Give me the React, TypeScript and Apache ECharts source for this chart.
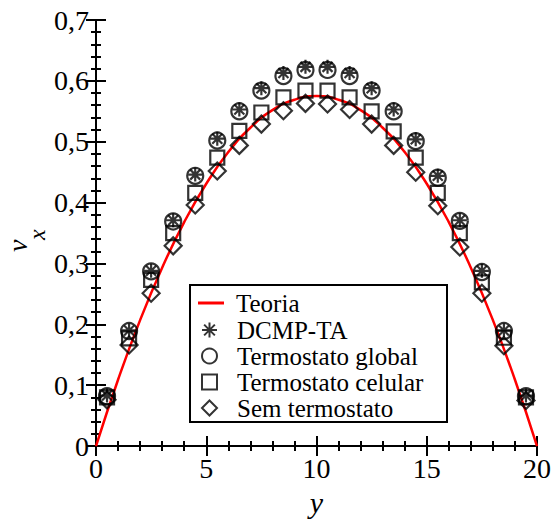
import React, { useEffect, useRef } from "react";
import * as echarts from "echarts";

const positions = [0.5, 1.5, 2.5, 3.5, 4.5, 5.5, 6.5, 7.5, 8.5, 9.5, 10.5, 11.5, 12.5, 13.5, 14.5, 15.5, 16.5, 17.5, 18.5, 19.5];
const dcmpTA = [0.083, 0.19, 0.288, 0.371, 0.446, 0.505, 0.553, 0.588, 0.613, 0.623, 0.623, 0.613, 0.588, 0.553, 0.504, 0.444, 0.371, 0.288, 0.19, 0.083];
const termGlobal = [0.082, 0.189, 0.287, 0.369, 0.444, 0.502, 0.55, 0.584, 0.608, 0.618, 0.618, 0.608, 0.584, 0.55, 0.501, 0.441, 0.37, 0.286, 0.189, 0.082];
const termCelular = [0.08, 0.177, 0.273, 0.35, 0.416, 0.474, 0.518, 0.548, 0.573, 0.584, 0.584, 0.573, 0.55, 0.517, 0.474, 0.416, 0.35, 0.269, 0.178, 0.08];
const semTerm = [0.076, 0.166, 0.251, 0.329, 0.396, 0.452, 0.494, 0.529, 0.551, 0.563, 0.562, 0.553, 0.529, 0.494, 0.45, 0.395, 0.327, 0.251, 0.165, 0.075];
const theoryY = [0, 1, 2, 3, 4, 5, 6, 7, 8, 9, 10, 11, 12, 13, 14, 15, 16, 17, 18, 19, 20];
const theoryV = [0, 0.109, 0.207, 0.293, 0.368, 0.431, 0.483, 0.523, 0.552, 0.569, 0.575, 0.569, 0.552, 0.523, 0.483, 0.431, 0.368, 0.293, 0.207, 0.109, 0];

const names = ["Teoria", "DCMP-TA", "Termostato global", "Termostato celular", "Sem termostato"];

const FONT = "Times New Roman, Liberation Serif, DejaVu Serif, serif";
const STAR = "path://M0,-7L0,7M-7,0L7,0M-5,-5L5,5M-5,5L5,-5";

const pairs = (xs: number[], ys: number[]) => xs.map((x, i) => [x, ys[i]]);

export default function App() {
  const ref = useRef<HTMLDivElement>(null);
  useEffect(() => {
    if (!ref.current) return;
    const chart = echarts.init(ref.current, undefined, { renderer: "svg" });
    const axisLine = { show: true, lineStyle: { color: "#000", width: 2 } };
    const tick = { show: true, inside: true, length: 10, lineStyle: { color: "#000", width: 2 } };
    const minor = { show: true, splitNumber: 5, length: 5, lineStyle: { color: "#000", width: 2 } };
    const hollow = (sym: string, size: number, name: string, data: number[]) => ({
      type: "scatter",
      name,
      symbol: sym,
      symbolSize: size,
      data: pairs(positions, data),
      itemStyle: { color: "transparent", borderColor: "#000", borderWidth: 2.2 },
      z: 3,
    });
    chart.setOption({
      animation: false,
      textStyle: { fontFamily: FONT },
      grid: { left: 96, right: 14, top: 20, bottom: 59 },
      xAxis: [
        {
          type: "value", min: 0, max: 20, interval: 5, position: "bottom",
          axisLine, axisTick: tick, minorTick: minor, splitLine: { show: false },
          axisLabel: { fontFamily: FONT, fontSize: 28, color: "#000", margin: 8 },
          name: "y", nameLocation: "middle", nameGap: 27,
          nameTextStyle: { fontFamily: FONT, fontSize: 30, fontStyle: "italic", color: "#000" },
        },
        {
          type: "value", min: 0, max: 20, interval: 5, position: "top",
          axisLine, axisTick: tick, minorTick: minor, splitLine: { show: false },
          axisLabel: { show: false },
        },
      ],
      yAxis: [
        {
          type: "value", min: 0, max: 0.7, interval: 0.1, position: "left",
          axisLine, axisTick: tick, minorTick: minor, splitLine: { show: false },
          axisLabel: {
            fontFamily: FONT, fontSize: 28, color: "#000", margin: 7,
            formatter: (v: number) => (v === 0 ? "0" : v.toFixed(1).replace(".", ",")),
          },
        },
        {
          type: "value", min: 0, max: 0.7, interval: 0.1, position: "right",
          axisLine, axisTick: tick, minorTick: minor, splitLine: { show: false },
          axisLabel: { show: false },
        },
      ],
      legend: [
        {
          data: [{ name: names[0], icon: "rect" }], orient: "vertical", left: 198, top: 290, padding: 0,
          itemWidth: 26, itemHeight: 3, itemGap: 0,
          textStyle: { fontFamily: FONT, fontSize: 25, color: "#000", lineHeight: 26, padding: [0, 0, 0, 7] },
          z: 5,
        },
        {
          data: names.slice(1), orient: "vertical", left: 201, top: 317, padding: 0,
          itemWidth: 15, itemHeight: 15, itemGap: 0,
          textStyle: { fontFamily: FONT, fontSize: 25, color: "#000", lineHeight: 26, padding: [0, 0, 0, 15] },
          z: 5,
        },
      ],
      graphic: [
        {
          type: "rect", z: 4, shape: { x: 190, y: 285, width: 257, height: 137 },
          style: { fill: "#fff", stroke: "#000", lineWidth: 2 },
        },
        {
          type: "group", x: 0, y: 252, rotation: Math.PI / 2,
          children: [
            { type: "text", x: 0, y: 17, style: { text: "v", fontFamily: FONT, fontSize: 28, fontStyle: "italic", fill: "#000", verticalAlign: "middle" } },
            { type: "text", x: 12, y: 37, style: { text: "x", fontFamily: FONT, fontSize: 24, fontStyle: "italic", fill: "#000", verticalAlign: "middle" } },
          ],
        },
      ],
      series: [
        {
          type: "line", name: names[0], data: pairs(theoryY, theoryV), smooth: true,
          showSymbol: false, symbol: "none", lineStyle: { color: "#ff0000", width: 2.5 },
          itemStyle: { color: "#ff0000" }, z: 2,
        },
        hollow(STAR, 14, names[1], dcmpTA),
        hollow("circle", 16, names[2], termGlobal),
        hollow("rect", 14, names[3], termCelular),
        hollow("diamond", 17, names[4], semTerm),
      ],
    });
    return () => chart.dispose();
  }, []);
  return <div ref={ref} style={{ width: 554, height: 522, position: "absolute", left: 0, top: 0 }} />;
}
